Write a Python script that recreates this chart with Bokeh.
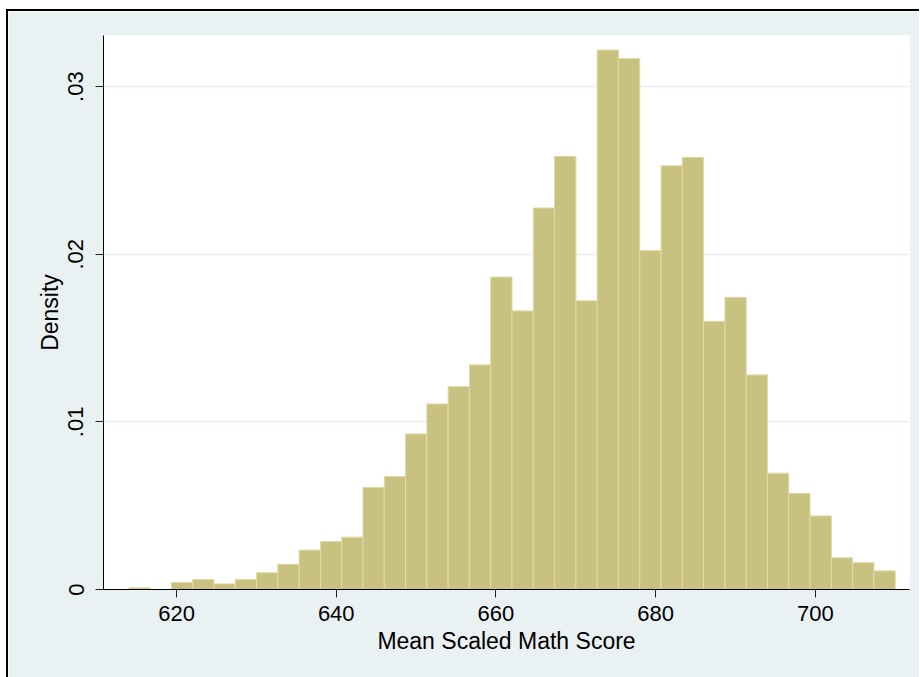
from bokeh.plotting import figure
from bokeh.models import FixedTicker, Range1d, CustomJSTickFormatter
from bokeh.embed import file_html
from bokeh.resources import INLINE

# ---- data ----
bin_start = 614.02
bin_width = 2.6664
densities = [0.0001, 0.0, 0.00042, 0.0006, 0.00033, 0.0006, 0.0010, 0.0015,
             0.00235, 0.00286, 0.00312, 0.00608, 0.00674, 0.00928, 0.01107,
             0.0121, 0.0134, 0.01864, 0.01662, 0.02276, 0.02584, 0.01722,
             0.03218, 0.03168, 0.02023, 0.02528, 0.02578, 0.0160, 0.01743,
             0.0128, 0.00694, 0.00574, 0.00439, 0.00189, 0.00161, 0.00111]
x_ticks = [620, 640, 660, 680, 700]
y_ticks = [0, 0.01, 0.02, 0.03]

lefts = [bin_start + i * bin_width for i in range(len(densities))]
rights = [l + bin_width for l in lefts]

BG = "#eaf1f3"
FONT = "Liberation Sans"

p = figure(frame_width=806, frame_height=554,
           x_range=Range1d(610.85, 711.8), y_range=Range1d(0, 0.03305),
           output_backend="svg", toolbar_location=None,
           min_border_left=95, min_border_right=10, min_border_top=24,
           min_border_bottom=88,
           background_fill_color="white", border_fill_color=BG,
           outline_line_color=None)
p.styles = {"border-left": "2px solid black", "border-top": "2px solid black",
            "margin-left": "6px", "margin-top": "9px"}

p.quad(left=lefts, right=rights, top=densities, bottom=0,
       fill_color="#c9c17f", line_color="#dfdaa8", line_width=1)

# grid
p.xgrid.visible = False
p.ygrid.ticker = FixedTicker(ticks=y_ticks[1:])
p.ygrid.grid_line_color = "#e6eef0"
p.ygrid.grid_line_width = 1.5

# x axis
xa = p.xaxis[0]
xa.ticker = FixedTicker(ticks=x_ticks)
xa.axis_label = "Mean Scaled Math Score"
# y axis
ya = p.yaxis[0]
ya.ticker = FixedTicker(ticks=y_ticks)
ya.axis_label = "Density"
ya.formatter = CustomJSTickFormatter(
    code='return tick == 0 ? "0" : tick.toFixed(2).replace(/^0/, "");')
ya.major_label_orientation = "vertical"

for ax in (xa, ya):
    ax.axis_line_color = "black"
    ax.axis_line_width = 1
    ax.major_tick_line_color = "#222222"
    ax.major_tick_out = 8
    ax.major_tick_in = 0
    ax.minor_tick_line_color = None
    ax.major_label_text_font = FONT
    ax.major_label_text_font_size = "22px"
    ax.major_label_text_color = "black"
    ax.axis_label_text_font = FONT
    ax.axis_label_text_font_size = "23px"
    ax.axis_label_text_font_style = "normal"
    ax.axis_label_text_color = "black"

xa.major_label_standoff = 8
xa.axis_label_standoff = 4
ya.major_label_standoff = 12
ya.axis_label_standoff = 3

open("out.html", "w").write(file_html(p, INLINE))
